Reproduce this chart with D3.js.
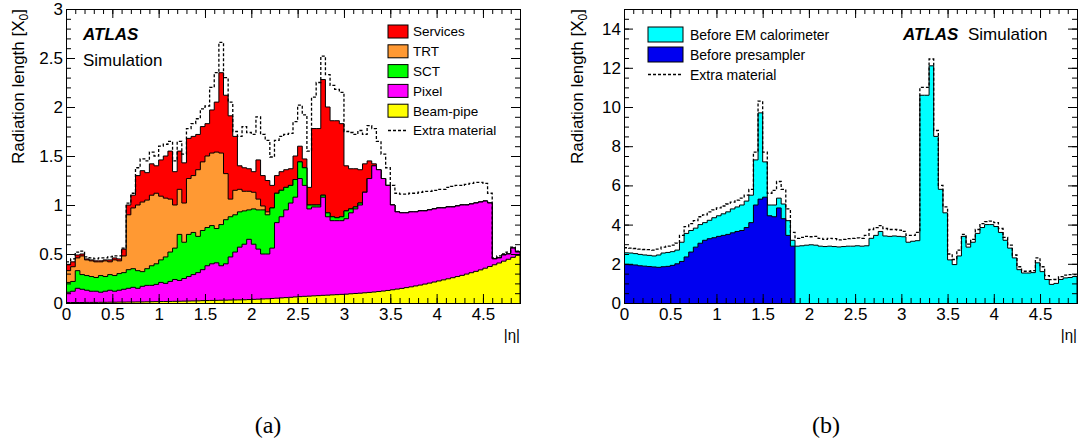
<!DOCTYPE html>
<html>
<head>
<meta charset="utf-8">
<script src="https://cdn.jsdelivr.net/npm/d3@7"></script>
<style>
  body { margin: 0; background: #fff; }
  svg text { font-family: "Liberation Sans", Arial, Helvetica, sans-serif; fill: #000; }
</style>
</head>
<body>
<svg id="fig" width="1079" height="443"></svg>
<script>
// |eta| bins, 0.05 wide, 0 .. 4.9
const ETA_MAX = 4.9;
const BIN = 0.05;
const binEdges = d3.range(98).map(i => i * 5 / 100);

// ---- panel (a): stacked inner detector material, cumulative tops [X0]
const beamPipe = [
  0.005,0.005,0.005,0.005,0.006,0.006,0.006,0.007,0.007,0.008,
  0.008,0.009,0.009,0.010,0.010,0.011,0.011,0.012,0.013,0.014,
  0.015,0.015,0.016,0.017,0.018,0.019,0.020,0.021,0.022,0.024,
  0.025,0.026,0.027,0.028,0.029,0.030,0.031,0.032,0.033,0.035,
  0.037,0.039,0.041,0.043,0.046,0.049,0.052,0.055,0.058,0.062,
  0.065,0.068,0.070,0.073,0.075,0.078,0.080,0.083,0.085,0.088,
  0.090,0.094,0.097,0.100,0.104,0.108,0.112,0.117,0.122,0.128,
  0.135,0.142,0.149,0.157,0.165,0.174,0.183,0.193,0.203,0.214,
  0.225,0.236,0.247,0.258,0.270,0.282,0.295,0.309,0.323,0.338,
  0.355,0.372,0.390,0.408,0.427,0.446,0.466,0.486];
const pixelTop = [
  0.11,0.12,0.15,0.14,0.13,0.12,0.12,0.11,0.12,0.13,
  0.12,0.13,0.14,0.15,0.16,0.15,0.17,0.18,0.18,0.19,
  0.21,0.20,0.22,0.24,0.23,0.25,0.27,0.29,0.31,0.34,
  0.38,0.40,0.41,0.38,0.40,0.47,0.52,0.57,0.60,0.65,
  0.60,0.55,0.50,0.50,0.56,0.82,0.88,0.95,1.02,1.08,
  1.27,1.20,0.96,0.98,0.98,1.08,0.88,0.84,0.84,0.84,
  0.86,0.92,0.96,1.00,1.13,1.27,1.40,1.36,1.27,1.20,
  1.00,0.93,0.92,0.92,0.93,0.93,0.94,0.94,0.95,0.96,
  0.97,0.97,0.98,0.98,0.99,1.00,1.00,1.01,1.02,1.03,
  1.04,1.02,0.45,0.46,0.49,0.50,0.56,0.52];
const sctTop = [
  0.21,0.22,0.33,0.29,0.28,0.27,0.26,0.28,0.27,0.29,
  0.28,0.30,0.31,0.34,0.35,0.33,0.32,0.35,0.38,0.40,
  0.44,0.47,0.52,0.56,0.70,0.62,0.70,0.72,0.68,0.74,
  0.77,0.79,0.76,0.80,0.85,0.88,0.90,0.93,0.94,0.95,
  0.96,0.95,0.95,0.90,0.97,1.12,1.15,1.18,1.20,1.26,
  1.44,1.38,1.00,1.00,1.00,1.10,0.92,0.88,0.87,0.88,
  0.94,0.96,0.98,1.02,1.13,1.27,1.40,1.36,1.27,1.20,
  1.00,0.93,0.92,0.92,0.93,0.93,0.94,0.94,0.95,0.96,
  0.97,0.97,0.98,0.98,0.99,1.00,1.00,1.01,1.02,1.03,
  1.04,1.02,0.45,0.46,0.49,0.50,0.56,0.52];
const trtTop = [
  0.33,0.37,0.46,0.48,0.44,0.43,0.42,0.42,0.43,0.42,
  0.44,0.43,0.48,0.90,0.97,1.00,1.03,1.05,1.10,1.12,
  1.09,1.07,1.06,1.00,1.16,1.02,1.27,1.30,1.36,1.44,
  1.50,1.53,1.54,1.53,1.32,1.06,1.15,1.16,1.14,1.14,
  1.13,1.06,0.99,0.93,0.97,1.12,1.15,1.18,1.20,1.26,
  1.44,1.38,1.00,1.00,1.00,1.10,0.92,0.88,0.87,0.88,
  0.94,0.96,0.98,1.02,1.13,1.27,1.40,1.36,1.27,1.20,
  1.00,0.93,0.92,0.92,0.93,0.93,0.94,0.94,0.95,0.96,
  0.97,0.97,0.98,0.98,0.99,1.00,1.00,1.01,1.02,1.03,
  1.04,1.02,0.45,0.46,0.49,0.50,0.56,0.52];
const servicesTop = [
  0.39,0.42,0.49,0.50,0.45,0.44,0.43,0.43,0.44,0.44,
  0.46,0.45,0.55,1.00,1.10,1.30,1.35,1.33,1.42,1.40,
  1.46,1.50,1.55,1.34,1.55,1.43,1.68,1.70,1.72,1.80,
  1.83,1.97,2.05,2.35,2.12,1.91,1.70,1.40,1.38,1.37,
  1.34,1.46,1.30,1.25,1.20,1.30,1.34,1.36,1.37,1.50,
  1.60,1.47,1.18,1.78,1.78,2.28,2.00,1.86,1.86,1.83,
  1.40,1.37,1.37,1.36,1.42,1.45,1.42,1.36,1.27,1.20,
  1.00,0.93,0.92,0.92,0.93,0.93,0.94,0.94,0.95,0.96,
  0.97,0.97,0.98,0.98,0.99,1.00,1.00,1.01,1.02,1.03,
  1.04,1.02,0.45,0.46,0.49,0.50,0.56,0.52];
const extraA = [
  0.42,0.45,0.52,0.53,0.47,0.46,0.45,0.46,0.46,0.47,
  0.48,0.48,0.56,1.02,1.12,1.38,1.47,1.45,1.54,1.50,
  1.60,1.62,1.65,1.45,1.65,1.52,1.78,1.83,1.88,1.98,
  2.01,2.20,2.35,2.66,2.30,2.05,1.75,1.70,1.80,1.74,
  1.72,1.90,1.72,1.66,1.49,1.66,1.70,1.72,1.73,1.85,
  2.02,1.92,1.55,2.10,2.25,2.52,2.33,2.22,2.18,2.15,
  1.75,1.74,1.72,1.76,1.72,1.81,1.78,1.65,1.52,1.38,
  1.20,1.12,1.11,1.11,1.12,1.12,1.13,1.14,1.14,1.15,
  1.16,1.16,1.18,1.19,1.20,1.20,1.21,1.22,1.23,1.23,
  1.22,1.12,0.46,0.48,0.50,0.52,0.57,0.53];

// ---- panel (b): material before presampler / EM calorimeter [X0]
const beforePresampler = [   // stops at |eta| = 1.85
  1.96,1.95,1.94,1.90,1.88,1.86,1.84,1.82,1.85,1.87,
  1.92,2.00,2.12,2.35,2.60,2.85,3.05,3.20,3.28,3.33,
  3.40,3.45,3.50,3.58,3.65,3.70,3.85,4.10,5.00,5.30,
  5.40,4.45,4.40,4.85,4.30,3.45,2.90];
const beforeEMCalo = [
  2.56,2.55,2.52,2.48,2.45,2.43,2.40,2.45,2.55,2.58,
  2.62,2.70,3.10,3.55,3.70,3.82,4.00,4.10,4.22,4.35,
  4.45,4.55,4.65,4.80,4.90,5.00,5.20,5.50,7.30,9.70,
  7.20,5.00,5.00,5.35,5.05,4.20,3.20,2.90,2.92,2.95,
  2.97,2.95,2.90,2.88,2.90,2.88,2.86,2.88,2.90,2.90,
  2.92,2.90,2.92,3.30,3.45,3.65,3.42,3.40,3.42,3.40,
  3.38,3.10,3.15,3.18,10.60,10.60,12.10,8.50,5.80,4.60,
  2.20,1.96,2.40,3.40,2.85,3.10,3.55,3.85,4.00,4.00,
  3.90,3.60,3.20,2.80,2.30,1.70,1.53,1.53,1.55,2.05,
  1.60,1.20,0.95,1.00,1.20,1.28,1.30,1.35];
const extraB = [
  2.82,2.80,2.78,2.75,2.73,2.72,2.70,2.75,2.85,2.90,
  2.95,3.05,3.45,3.90,4.05,4.20,4.40,4.50,4.65,4.75,
  4.85,4.95,5.05,5.15,5.25,5.35,5.50,5.80,7.70,10.30,
  7.70,5.60,5.75,6.20,5.80,4.80,3.60,3.30,3.35,3.40,
  3.38,3.40,3.30,3.25,3.30,3.28,3.22,3.25,3.28,3.30,
  3.32,3.30,3.45,3.75,3.85,3.95,3.80,3.75,3.75,3.72,
  3.65,3.45,3.45,3.60,11.00,11.00,12.45,8.80,6.00,4.90,
  2.50,2.22,2.70,3.50,3.00,3.25,3.75,4.05,4.15,4.18,
  4.10,3.80,3.35,2.95,2.45,1.85,1.62,1.62,1.65,2.30,
  1.85,1.40,1.19,1.20,1.35,1.42,1.45,1.45];

const xTicksMajor = [0, 0.5, 1, 1.5, 2, 2.5, 3, 3.5, 4, 4.5];
const yTicksA = [0, 0.5, 1, 1.5, 2, 2.5, 3];
const yTicksB = [0, 2, 4, 6, 8, 10, 12, 14];

const layersA = [
  {label: 'Services', color: '#ff0000', values: servicesTop},
  {label: 'TRT', color: '#ff9933', values: trtTop},
  {label: 'SCT', color: '#00ff00', values: sctTop},
  {label: 'Pixel', color: '#ff00ff', values: pixelTop},
  {label: 'Beam-pipe', color: '#ffff00', values: beamPipe},
];
const layersB = [
  {label: 'Before EM calorimeter', color: '#00ffff', values: beforeEMCalo},
  {label: 'Before presampler', color: '#0000f0', values: beforePresampler},
];

const svg = d3.select('#fig');
svg.append('rect').attr('width', 1079).attr('height', 443).attr('fill', '#fff');

// histogram -> step points, closed down to zero at both ends (ROOT style)
function stepPts(vals) {
  let pts = vals.map((v, i) => [binEdges[i], v]);
  let end = (vals.length * 5) / 100;
  pts.push([end, vals[vals.length - 1]]);
  pts.push([end, 0]);
  pts.unshift([0, 0]);
  return pts;
}

function makePanel(id, xr, yr, yMax) {
  let x = d3.scaleLinear().domain([0, ETA_MAX]).range(xr);
  let y = d3.scaleLinear().domain([0, yMax]).range(yr);
  let g = svg.append('g').attr('class', id);
  g.append('clipPath').attr('id', 'clip-' + id)
    .append('rect')
    .attr('x', xr[0]).attr('y', yr[1])
    .attr('width', xr[1] - xr[0]).attr('height', yr[0] - yr[1]);
  let plot = g.append('g').attr('clip-path', `url(#clip-${id})`);
  return {x, y, g, plot};
}

function drawHist(p, vals, color) {
  let pts = stepPts(vals);
  let area = d3.area().curve(d3.curveStepAfter)
    .x(d => p.x(d[0])).y0(p.y(0)).y1(d => p.y(d[1]));
  let line = d3.line().curve(d3.curveStepAfter)
    .x(d => p.x(d[0])).y(d => p.y(d[1]));
  p.plot.append('path').attr('d', area(pts)).attr('fill', color);
  p.plot.append('path').attr('d', line(pts))
    .attr('fill', 'none').attr('stroke', '#000').attr('stroke-width', 1);
}

function drawDashed(p, vals) {
  let line = d3.line().curve(d3.curveStepAfter)
    .x(d => p.x(d[0])).y(d => p.y(d[1]));
  let pts = vals.map((v, i) => [binEdges[i], v]);
  pts.push([ETA_MAX, vals[vals.length - 1]]);
  p.plot.append('path').attr('d', line(pts))
    .attr('fill', 'none').attr('stroke', '#000')
    .attr('stroke-width', 1.3).attr('stroke-dasharray', '3,2');
}

function drawAxes(p, yTicks, yMinorStep, yFmt) {
  let [x0, x1] = p.x.range();
  let [y0, y1] = p.y.range();
  let xMinor = d3.range(0, ETA_MAX + 0.001, 0.1);
  let yMinor = d3.range(0, p.y.domain()[1] + 0.001, yMinorStep);
  let strip = sel => {
    sel.select('.domain').remove();
    sel.attr('font-family', null).attr('font-size', 17);
  };
  let ax = p.g.append('g');
  // bottom, with labels
  ax.append('g').attr('transform', `translate(0,${y0})`)
    .call(d3.axisBottom(p.x).tickValues(xTicksMajor).tickSize(-9).tickPadding(5).tickFormat(d => d))
    .call(strip);
  ax.append('g').attr('transform', `translate(0,${y0})`)
    .call(d3.axisBottom(p.x).tickValues(xMinor).tickSize(-5).tickFormat(''))
    .call(strip);
  // top
  ax.append('g').attr('transform', `translate(0,${y1})`)
    .call(d3.axisTop(p.x).tickValues(xTicksMajor).tickSize(-9).tickFormat(''))
    .call(strip);
  ax.append('g').attr('transform', `translate(0,${y1})`)
    .call(d3.axisTop(p.x).tickValues(xMinor).tickSize(-5).tickFormat(''))
    .call(strip);
  // left, with labels
  ax.append('g').attr('transform', `translate(${x0},0)`)
    .call(d3.axisLeft(p.y).tickValues(yTicks).tickSize(-9).tickPadding(3).tickFormat(yFmt))
    .call(strip);
  ax.append('g').attr('transform', `translate(${x0},0)`)
    .call(d3.axisLeft(p.y).tickValues(yMinor).tickSize(-5).tickFormat(''))
    .call(strip);
  // right
  ax.append('g').attr('transform', `translate(${x1},0)`)
    .call(d3.axisRight(p.y).tickValues(yTicks).tickSize(-9).tickFormat(''))
    .call(strip);
  ax.append('g').attr('transform', `translate(${x1},0)`)
    .call(d3.axisRight(p.y).tickValues(yMinor).tickSize(-5).tickFormat(''))
    .call(strip);

  p.g.append('rect')
    .attr('x', x0 + 0.5).attr('y', y1 + 0.5)
    .attr('width', x1 - x0).attr('height', y0 - y1)
    .attr('fill', 'none').attr('stroke', '#000').attr('stroke-width', 1);
}

function axisTitles(p, tx) {
  let [x0, x1] = p.x.range();
  let [y0, y1] = p.y.range();
  let t = p.g.append('text')
    .attr('transform', `translate(${tx},${y1}) rotate(-90)`)
    .attr('text-anchor', 'end')
    .attr('font-size', 17);
  t.append('tspan').text('Radiation length [X');
  t.append('tspan').attr('dy', 4).attr('font-size', 12).text('0');
  t.append('tspan').attr('dy', -4).text(']');
  p.g.append('text')
    .attr('x', x1).attr('y', y0 + 37)
    .attr('text-anchor', 'end').attr('font-size', 15)
    .text('|η|');
}

function atlasLabel(g, x, y, sx, sy) {
  g.append('text').attr('x', x).attr('y', y)
    .attr('font-size', 17).attr('font-weight', 'bold').attr('font-style', 'italic')
    .text('ATLAS');
  g.append('text').attr('x', sx).attr('y', sy)
    .attr('font-size', 17).text('Simulation');
}

function legend(g, entries, opts) {
  let leg = g.append('g').attr('class', 'legend');
  entries.forEach((e, i) => {
    let cy = opts.y + i * opts.dy;
    if (e.dashed) {
      leg.append('line')
        .attr('x1', opts.x).attr('x2', opts.x + opts.w)
        .attr('y1', cy).attr('y2', cy)
        .attr('stroke', '#000').attr('stroke-width', 1.3).attr('stroke-dasharray', '3,2');
    } else {
      leg.append('rect')
        .attr('x', opts.x).attr('y', cy - opts.h / 2)
        .attr('width', opts.w).attr('height', opts.h)
        .attr('fill', e.color).attr('stroke', '#000').attr('stroke-width', 1);
    }
    leg.append('text')
      .attr('x', opts.x + opts.w + opts.gap).attr('y', cy)
      .attr('dy', '0.36em').attr('font-size', opts.fs)
      .text(e.label);
  });
}

// ---------- panel (a)
let pa = makePanel('a', [66, 520], [303, 9], 3);
for (let l of layersA) drawHist(pa, l.values, l.color);
drawDashed(pa, extraA);
drawAxes(pa, yTicksA, 0.1, d => d);
axisTitles(pa, 24);
atlasLabel(pa.g, 83, 40, 83, 66);
legend(pa.g, layersA.map(l => ({label: l.label, color: l.color}))
  .concat([{label: 'Extra material', dashed: true}]),
  {x: 388, y: 31.5, dy: 19.8, w: 20, h: 13, gap: 5, fs: 13.5});

// ---------- panel (b)
let pb = makePanel('b', [624, 1077], [303, 9], 15);
for (let l of layersB) drawHist(pb, l.values, l.color);
drawDashed(pb, extraB);
drawAxes(pb, yTicksB, 0.5, d => d);
axisTitles(pb, 583);
atlasLabel(pb.g, 903, 40, 968, 40);
legend(pb.g, layersB.map(l => ({label: l.label, color: l.color}))
  .concat([{label: 'Extra material', dashed: true}]),
  {x: 648, y: 34.5, dy: 20, w: 35, h: 15, gap: 7, fs: 14});

// sub-figure captions
svg.append('text').attr('x', 268).attr('y', 433).attr('text-anchor', 'middle')
  .attr('font-size', 24).style('font-family', '"Liberation Serif", "DejaVu Serif", serif')
  .text('(a)');
svg.append('text').attr('x', 826).attr('y', 433).attr('text-anchor', 'middle')
  .attr('font-size', 24).style('font-family', '"Liberation Serif", "DejaVu Serif", serif')
  .text('(b)');
</script>
</body>
</html>
